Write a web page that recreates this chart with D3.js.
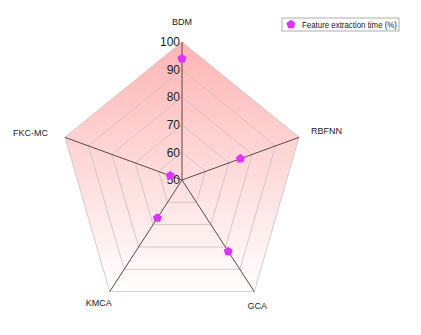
<!DOCTYPE html>
<html>
<head>
<meta charset="utf-8">
<script src="https://cdn.jsdelivr.net/npm/d3@7"></script>
<style>
  body { margin: 0; background: #fff; }
  text { font-family: "Liberation Sans", Arial, sans-serif; }
</style>
</head>
<body>
<div id="chart"></div>
<script>
const axes = ["BDM", "RBFNN", "GCA", "KMCA", "FKC-MC"]
const featureTime = [94, 75, 82, 67, 55]
const ticks = [50, 60, 70, 80, 90, 100]
const seriesName = "Feature extraction time (%)"

const W = 421, H = 335
const CX = 182, CY = 180
const RX = 123, RY = 138

const svg = d3.select("#chart").append("svg")
  .attr("width", W).attr("height", H)

const r = d3.scaleLinear().domain([50, 100]).range([0, 1])
const angle = d3.scaleLinear().domain([0, axes.length]).range([0, 2 * Math.PI])

function pt(i, v) {
  const a = angle(i), k = r(v)
  return [CX + RX * k * Math.sin(a), CY - RY * k * Math.cos(a)]
}

// gradient fill
const grad = svg.append("defs").append("linearGradient")
  .attr("id", "bg").attr("x1", 0).attr("y1", 0).attr("x2", 0).attr("y2", 1)
grad.append("stop").attr("offset", "0%").attr("stop-color", "#ffb4b4")
grad.append("stop").attr("offset", "100%").attr("stop-color", "#ffffff")

const line = d3.line()

svg.append("path")
  .attr("d", line(axes.map((d, i) => pt(i, 100))) + "Z")
  .attr("fill", "url(#bg)")

// rings
svg.selectAll(".ring").data(ticks.slice(1)).enter().append("path")
  .attr("class", "ring")
  .attr("d", t => line(axes.map((d, i) => pt(i, t))) + "Z")
  .attr("fill", "none")
  .attr("stroke", "#c8c0c0")
  .attr("stroke-width", 0.8)

// spokes
svg.selectAll(".spoke").data(axes).enter().append("line")
  .attr("x1", CX).attr("y1", CY)
  .attr("x2", (d, i) => pt(i, 100)[0])
  .attr("y2", (d, i) => pt(i, 100)[1])
  .attr("stroke", "#5a4a4a")
  .attr("stroke-width", 1)

// tick labels
svg.selectAll(".tick").data(ticks).enter().append("text")
  .attr("x", CX - 2)
  .attr("y", t => pt(0, t)[1])
  .attr("dy", "0.35em")
  .attr("text-anchor", "end")
  .attr("font-size", 12)
  .attr("fill", "#222")
  .text(t => t)

// axis labels
const labelPos = [[0, -17, "middle"], [12, -3, "start"], [3, 17, "middle"], [-11, 14, "middle"], [-17, -1, "end"]]
svg.selectAll(".lab").data(axes).enter().append("text")
  .attr("x", (d, i) => pt(i, 100)[0] + labelPos[i][0])
  .attr("y", (d, i) => pt(i, 100)[1] + labelPos[i][1])
  .attr("text-anchor", (d, i) => labelPos[i][2])
  .attr("font-size", 9)
  .attr("fill", "#222")
  .text(d => d)

// pentagon marker
const pent = d3.symbol().type({
  draw(ctx, size) {
    const rr = Math.sqrt(size / 2.4)
    for (let k = 0; k < 5; k++) {
      const a = -Math.PI / 2 + k * 2 * Math.PI / 5
      const x = rr * Math.cos(a), y = rr * Math.sin(a)
      k ? ctx.lineTo(x, y) : ctx.moveTo(x, y)
    }
    ctx.closePath()
  }
}).size(55)

svg.selectAll(".pt").data(featureTime).enter().append("path")
  .attr("d", pent)
  .attr("transform", (d, i) => `translate(${pt(i, d)})`)
  .attr("fill", "#dd33ff")

// legend
const lg = svg.append("g").attr("transform", "translate(282,18)")
lg.append("rect").attr("width", 117).attr("height", 13)
  .attr("fill", "#fff").attr("stroke", "#999").attr("stroke-width", 0.8)
lg.append("path").attr("d", pent).attr("transform", "translate(9,6.5)").attr("fill", "#dd33ff")
lg.append("text").attr("x", 20).attr("y", 10).attr("font-size", 8.5).attr("fill", "#222")
  .attr("textLength", 95).attr("lengthAdjust", "spacingAndGlyphs")
  .text(seriesName)
</script>
</body>
</html>
